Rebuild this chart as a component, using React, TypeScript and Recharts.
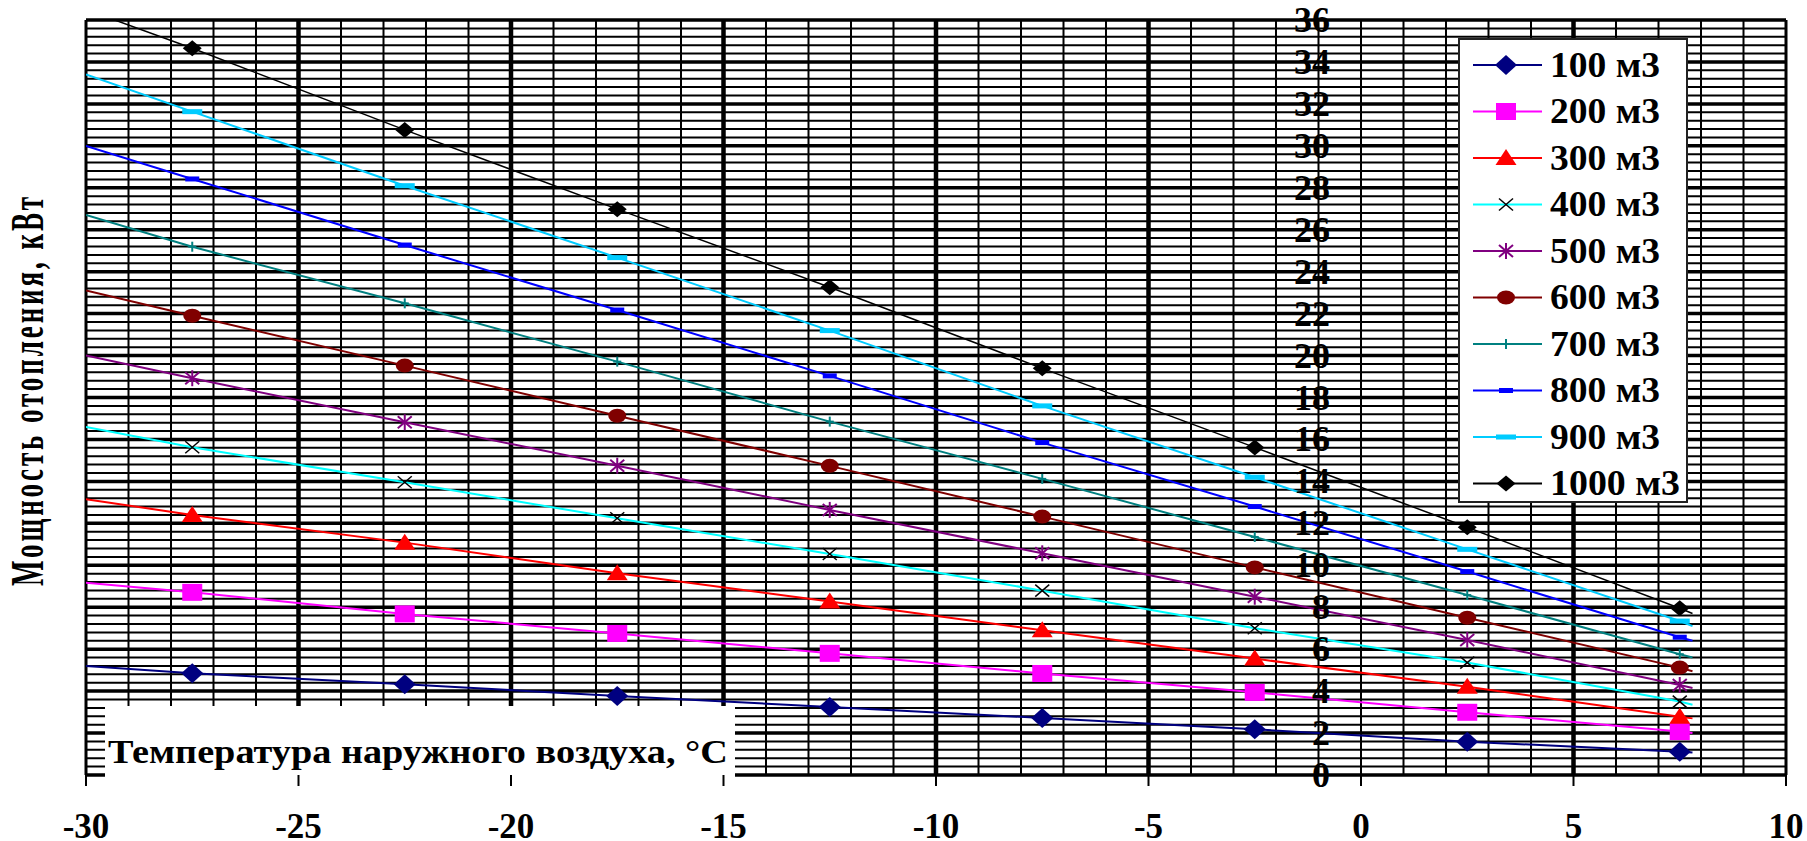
import React from 'react';
import { LineChart, Line, XAxis, YAxis, CartesianGrid, Legend } from 'recharts';

// размеры и поле графика
const W = 1807;
const H = 841;
const Y_AXIS_W = 40;
const MARGIN = { top: 20, right: 21, bottom: 0, left: 86 - Y_AXIS_W };
const X_AXIS_H = 66;
const X_MIN = -30;
const X_MAX = 10;
const Y_MAX = 36;
const PLOT_LEFT = MARGIN.left + Y_AXIS_W;
const PLOT_W = W - PLOT_LEFT - MARGIN.right;
const PLOT_BOTTOM = H - X_AXIS_H;
const PLOT_H = PLOT_BOTTOM - MARGIN.top;
// ось Y пересекает ось X в нуле
const X_ZERO = PLOT_LEFT + ((0 - X_MIN) / (X_MAX - X_MIN)) * PLOT_W;

const FONT = "'Liberation Serif', 'Times New Roman', 'DejaVu Serif', serif";

// температура наружного воздуха, °C
const temps = [-27.5, -22.5, -17.5, -12.5, -7.5, -2.5, 2.5, 7.5];
// концы линий тренда
const trendFrom = -30;
const trendTo = 7.8;

const xTicks = [-30, -25, -20, -15, -10, -5, 0, 5, 10];
const yTicks = [0, 2, 4, 6, 8, 10, 12, 14, 16, 18, 20, 22, 24, 26, 28, 30, 32, 34, 36];

// мощность отопления, кВт
const p100 = [4.85, 4.33, 3.77, 3.24, 2.72, 2.18, 1.59, 1.11];
const p200 = [8.71, 7.68, 6.75, 5.8, 4.84, 3.94, 2.99, 2.07];
const p300 = [12.4, 11.08, 9.62, 8.27, 6.9, 5.55, 4.21, 2.78];
const p400 = [15.63, 13.96, 12.24, 10.54, 8.79, 7.0, 5.36, 3.5];
const p500 = [18.92, 16.82, 14.75, 12.64, 10.57, 8.5, 6.44, 4.29];
const p600 = [21.9, 19.52, 17.13, 14.74, 12.32, 9.9, 7.5, 5.12];
const p700 = [25.19, 22.49, 19.71, 16.85, 14.12, 11.35, 8.58, 5.76];
const p800 = [28.42, 25.27, 22.17, 19.03, 15.85, 12.8, 9.7, 6.57];
const p900 = [31.63, 28.1, 24.67, 21.19, 17.6, 14.2, 10.76, 7.34];
const p1000 = [34.65, 30.76, 26.98, 23.26, 19.39, 15.62, 11.81, 7.95];

// значения линий у краёв
const startVals = [5.2, 9.17, 13.15, 16.6, 20.0, 23.1, 26.7, 30.0, 33.4, 36.5];
const endVals = [1.07, 2.0, 2.7, 3.35, 4.15, 4.95, 5.6, 6.4, 7.1, 7.7];

const names = ['100 м3', '200 м3', '300 м3', '400 м3', '500 м3', '600 м3', '700 м3', '800 м3', '900 м3', '1000 м3'];
const colors = ['#000080', '#FF00FF', '#FF0000', '#00FFFF', '#800080', '#800000', '#008080', '#0000FF', '#00CCFF', '#000000'];
const shapes = ['diamond', 'square', 'triangle', 'cross', 'star', 'circle', 'plus', 'dash', 'wideDash', 'smallDiamond'];
const allValues = [p100, p200, p300, p400, p500, p600, p700, p800, p900, p1000];

const series = names.map((name, i) => ({
  name,
  color: colors[i],
  shape: shapes[i],
  data: [
    { t: trendFrom, p: startVals[i], edge: true },
    ...temps.map((t, j) => ({ t, p: allValues[i][j], edge: false })),
    { t: trendTo, p: endVals[i], edge: true },
  ],
}));

// сетка
const minorX: number[] = [];
for (let x = X_MIN; x <= X_MAX; x++) if (x % 5 !== 0 || x === 0) minorX.push(x);
const majorX = [-25, -20, -15, -10, -5, 5];
const borderX = [X_MIN, X_MAX];
const minorY: number[] = [];
for (let i = 0; i <= 90; i++) if (i % 5 !== 0) minorY.push(i * 0.4);
const yPix = (v: number) => MARGIN.top + (1 - v / Y_MAX) * PLOT_H;

function Marker({ shape, cx, cy, color }: { shape: string; cx: number; cy: number; color: string }) {
  switch (shape) {
    case 'diamond':
      return <polygon points={`${cx},${cy - 10} ${cx + 11},${cy} ${cx},${cy + 10} ${cx - 11},${cy}`} fill={color} />;
    case 'smallDiamond':
      return <polygon points={`${cx},${cy - 8} ${cx + 9.5},${cy} ${cx},${cy + 8} ${cx - 9.5},${cy}`} fill={color} />;
    case 'square':
      return <rect x={cx - 10} y={cy - 8.5} width={20} height={17} fill={color} />;
    case 'triangle':
      return <polygon points={`${cx},${cy - 9} ${cx + 10.5},${cy + 7} ${cx - 10.5},${cy + 7}`} fill={color} />;
    case 'cross':
      return (
        <g stroke="#000" strokeWidth={1.5}>
          <line x1={cx - 7} y1={cy - 6} x2={cx + 7} y2={cy + 6} />
          <line x1={cx - 7} y1={cy + 6} x2={cx + 7} y2={cy - 6} />
        </g>
      );
    case 'star':
      return (
        <g stroke={color} strokeWidth={2}>
          <line x1={cx - 7} y1={cy - 6} x2={cx + 7} y2={cy + 6} />
          <line x1={cx - 7} y1={cy + 6} x2={cx + 7} y2={cy - 6} />
          <line x1={cx} y1={cy - 8} x2={cx} y2={cy + 8} />
        </g>
      );
    case 'circle':
      return <ellipse cx={cx} cy={cy} rx={9} ry={7} fill={color} />;
    case 'plus':
      return (
        <g stroke={color} strokeWidth={2}>
          <line x1={cx - 4} y1={cy} x2={cx + 4} y2={cy} />
          <line x1={cx} y1={cy - 5} x2={cx} y2={cy + 5} />
        </g>
      );
    case 'dash':
      return <rect x={cx - 7} y={cy - 2.5} width={14} height={5} fill={color} />;
    case 'wideDash':
      return <rect x={cx - 10} y={cy - 2.5} width={20} height={5} fill={color} />;
    default:
      return null;
  }
}

const XTick = ({ x, payload }: any) => (
  <text x={x} y={PLOT_BOTTOM + 51} textAnchor="middle" dominantBaseline="central"
    style={{ fontFamily: FONT, fontWeight: 'bold', fontSize: 35 }} fill="#000">
    {payload.value}
  </text>
);

const YTick = ({ y, payload }: any) => (
  <text x={X_ZERO - 31} y={y} textAnchor="end" dominantBaseline="central"
    style={{ fontFamily: FONT, fontWeight: 'bold', fontSize: 36 }} fill="#000">
    {payload.value}
  </text>
);

// легенда — отдельный SVG в рамке
const LEG_W = 230;
const LEG_H = 465;
const LegendBox = () => (
  <svg width={LEG_W} height={LEG_H} style={{ display: 'block' }}>
    <rect x={1} y={1} width={LEG_W - 2} height={LEG_H - 2} fill="#fff" stroke="#222" strokeWidth={2} />
    {series.map((s, i) => {
      const cy = 27 + 46.5 * i;
      return (
        <g key={s.name}>
          <line x1={15} y1={cy} x2={84} y2={cy} stroke={s.color} strokeWidth={2} />
          <Marker shape={s.shape} cx={48} cy={cy} color={s.color} />
          <text x={92} y={cy} dominantBaseline="central" fill="#000"
            style={{ fontFamily: FONT, fontWeight: 'bold', fontSize: 35 }}
            textLength={s.name.length > 6 ? 130 : 110} lengthAdjust="spacingAndGlyphs">
            {s.name}
          </text>
        </g>
      );
    })}
  </svg>
);

export default function App() {
  return (
    <div style={{ position: 'absolute', left: 0, top: 0, width: W, height: H, background: '#fff', fontFamily: FONT }}>
      <LineChart width={W} height={H} margin={MARGIN} style={{ fontFamily: FONT }}>
        <CartesianGrid horizontal={false} verticalValues={minorX} stroke="#000" strokeWidth={2} />
        <CartesianGrid vertical={false} horizontalPoints={minorY.map(yPix)} stroke="#000" strokeWidth={2} />
        <CartesianGrid vertical={false} horizontalPoints={yTicks.map(yPix)} stroke="#000" strokeWidth={3.5} />
        <CartesianGrid horizontal={false} verticalValues={majorX} stroke="#000" strokeWidth={4.5} />
        <CartesianGrid horizontal={false} verticalValues={borderX} stroke="#000" strokeWidth={3} />
        <XAxis
          type="number"
          dataKey="t"
          domain={[X_MIN, X_MAX]}
          ticks={xTicks}
          allowDataOverflow
          height={X_AXIS_H}
          axisLine={false}
          tickSize={11}
          tickLine={{ stroke: '#000', strokeWidth: 2 }}
          tick={<XTick />}
        />
        <YAxis
          type="number"
          domain={[0, Y_MAX]}
          ticks={yTicks}
          interval={0}
          allowDataOverflow
          width={Y_AXIS_W}
          axisLine={false}
          tickLine={false}
          tick={<YTick />}
        />
        {/* подпись оси X на белой подложке */}
        <g>
          <rect x={105} y={706} width={630} height={72} fill="#fff" />
          <text x={108} y={763} style={{ fontFamily: FONT, fontWeight: 'bold', fontSize: 34 }} fill="#000"
            textLength={620} lengthAdjust="spacingAndGlyphs">
            Температура наружного воздуха, °C
          </text>
        </g>
        <text x={43} y={390} transform="rotate(-90 43 390)" textAnchor="middle"
          style={{ fontFamily: FONT, fontWeight: 'bold', fontSize: 46, letterSpacing: 5 }} fill="#000"
          textLength={392} lengthAdjust="spacingAndGlyphs">
          Мощность отопления, кВт
        </text>
        {series.map((s) => (
          <Line
            key={s.name}
            data={s.data}
            dataKey="p"
            name={s.name}
            type="linear"
            stroke={s.color}
            strokeWidth={s.shape === 'smallDiamond' ? 1.5 : 2}
            isAnimationActive={false}
            activeDot={false}
            dot={(props: any) =>
              props.payload.edge ? (
                <g key={props.key ?? props.index} />
              ) : (
                <g key={props.key ?? props.index}>
                  <Marker shape={s.shape} cx={props.cx} cy={props.cy} color={s.color} />
                </g>
              )
            }
          />
        ))}
        <Legend
          layout="vertical"
          align="center"
          verticalAlign="middle"
          content={() => <LegendBox />}
          wrapperStyle={{ left: 1458, top: 38, width: LEG_W, height: LEG_H }}
        />
      </LineChart>
    </div>
  );
}
